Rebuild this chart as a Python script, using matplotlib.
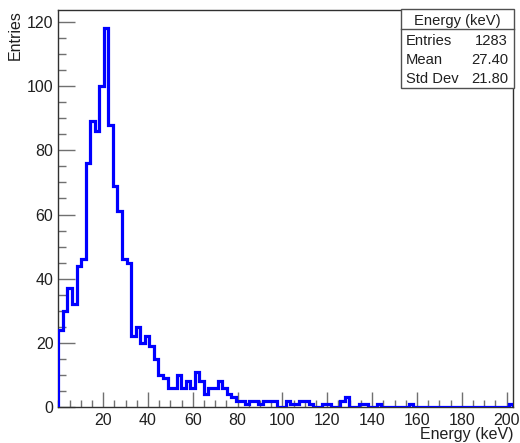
import numpy as np
import matplotlib
matplotlib.use("Agg")
import matplotlib.pyplot as plt
from matplotlib.patches import Rectangle
from matplotlib.ticker import MultipleLocator

plt.rcParams['font.family'] = ['Liberation Sans', 'DejaVu Sans']

# histogram: 100 bins between 0 and 203 keV
x_min, x_max, n_bins = 0.0, 203.0, 100
counts = [24, 30, 37, 32, 44, 46, 76, 89, 86, 100,
          118, 88, 69, 61, 46, 45, 22, 25, 20, 22,
          19, 15, 10, 9, 6, 6, 10, 6, 8, 6,
          11, 8, 4, 6, 6, 8, 6, 4, 3, 2,
          2, 1, 2, 2, 1, 2, 2, 2, 0, 0,
          2, 1, 1, 2, 2, 1, 0, 0, 1, 1,
          0, 0, 2, 3, 0, 0, 1, 1, 0, 0,
          1, 0, 0, 0, 0, 0, 0, 1, 0, 0,
          0, 0, 0, 0, 0, 0, 0, 0, 0, 0,
          0, 0, 0, 0, 0, 0, 0, 0, 0, 1]
x_ticks = [20, 40, 60, 80, 100, 120, 140, 160, 180, 200]
y_ticks = [0, 20, 40, 60, 80, 100, 120]

stats_title = "Energy (keV)"
stats_names = ["Entries", "Mean", "Std Dev"]
stats_values = ["1283", "27.40", "21.80"]

W, H = 520, 443
fig = plt.figure(figsize=(W / 100, H / 100), dpi=100)
fig.patch.set_facecolor('white')

# axes frame in pixel coords
left, right, top, bottom = 58.3, 513.3, 9.5, 407.0
ax = fig.add_axes([left / W, 1 - bottom / H, (right - left) / W, (bottom - top) / H])

edges = np.linspace(x_min, x_max, n_bins + 1)
ax.stairs(counts, edges, baseline=0, color='#0000ff', lw=2.3, zorder=3)

ax.set_xlim(x_min, x_max)
ax.set_ylim(0, 1.05 * max(counts))

ax.set_xticks(x_ticks)
ax.set_yticks(y_ticks)
ax.xaxis.set_minor_locator(MultipleLocator(5))
ax.yaxis.set_minor_locator(MultipleLocator(5))
ax.tick_params(axis='both', which='both', direction='in', color='#707070',
               width=1.0, labelsize=11.5, labelcolor='#202020')
ax.tick_params(axis='x', which='major', length=10.6, pad=4)
ax.tick_params(axis='x', which='minor', length=5.3)
ax.tick_params(axis='y', which='major', length=12.5, pad=3.5)
ax.tick_params(axis='y', which='minor', length=6)
for sp in ax.spines.values():
    sp.set_color('#303030')
    sp.set_linewidth(1.0)

# axis titles, ROOT-style placement
fig.text(513 / W, 4.5 / H, "Energy (keV)", ha='right', va='baseline',
         fontsize=11.5, color='#202020')
fig.text(15 / W, 1 - 10 / H, "Entries", rotation=90, ha='center', va='top',
         fontsize=11.5, color='#202020')

# stats box
bx0, bx1, by0, by1 = 401, 514, 9.3, 88
fig.add_artist(Rectangle((bx0 / W, 1 - by1 / H), (bx1 - bx0) / W, (by1 - by0) / H,
                         transform=fig.transFigure, facecolor='white',
                         edgecolor='#505050', lw=1.0, zorder=5))
fig.add_artist(plt.Line2D([bx0 / W, bx1 / W], [1 - 29.3 / H, 1 - 29.3 / H],
                          transform=fig.transFigure, color='#505050', lw=1.0, zorder=6))
fig.text((bx0 + bx1) / 2 / W, 1 - 25 / H, stats_title, ha='center', va='baseline',
         fontsize=10.6, color='#202020', zorder=7)
for i, (name, val) in enumerate(zip(stats_names, stats_values)):
    yb = 1 - (45 + 19 * i) / H
    fig.text(406 / W, yb, name, ha='left', va='baseline', fontsize=10.6,
             color='#202020', zorder=7)
    fig.text(508 / W, yb, val, ha='right', va='baseline', fontsize=10.6,
             color='#202020', zorder=7)

fig.savefig("out.png", dpi=100, facecolor='white')
